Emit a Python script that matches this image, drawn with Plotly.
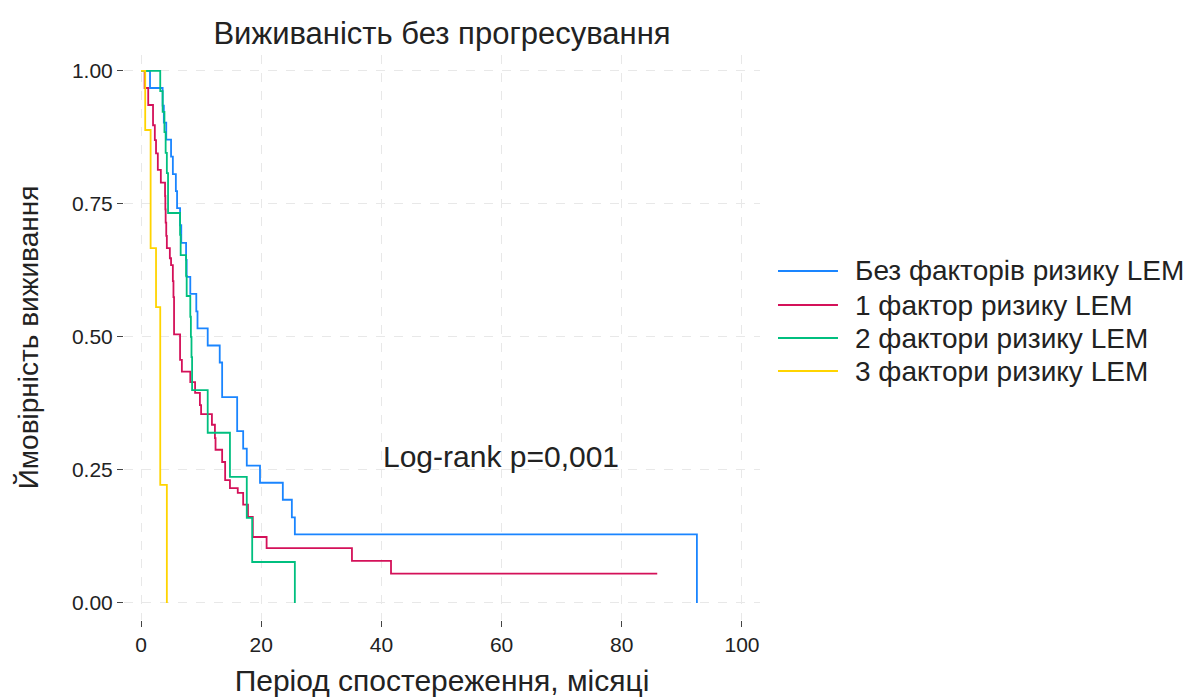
import plotly.graph_objects as go

# ---- data ----
series_names = ["Без факторів ризику LEM", "1 фактор ризику LEM",
                "2 фактори ризику LEM", "3 фактори ризику LEM"]
series_colors = ["#1a85ff", "#d41159", "#00bf7f", "#ffd400"]

t_none = [0, 1.5, 3.6, 3.8, 4.2, 5.0, 5.3, 5.8, 6.0, 6.5, 6.7, 7.5, 7.6, 8.2, 9.2, 9.4,
          11.1, 13.1, 13.5, 16.0, 17.0, 17.6, 19.8, 23.6, 25.1, 25.6, 92.5]
s_none = [1, .968, .935, .903, .871, .839, .806, .774, .742, .710, .677, .645, .613, .581, .548, .516,
          .484, .452, .387, .323, .290, .258, .226, .194, .161, .129, 0]

t_one = [0, 0.6, 1.2, 2.0, 2.3, 2.5, 2.8, 3.3, 4.0, 4.05, 4.1, 4.2, 4.3, 4.8, 5.0, 5.3, 5.4, 5.5,
         6.5, 6.8, 8.2, 9.0, 9.8, 10.0, 11.8, 12.3, 12.4, 13.5, 14.0, 14.8, 16.1, 17.0, 17.8,
         18.6, 20.9, 35.1, 41.6, 85.9]
s_one = [1, .968, .936, .898, .870, .845, .814, .790, .765, .740, .715, .690, .667, .648, .635, .605, .575, .505,
         .457, .435, .415, .395, .372, .355, .335, .310, .288, .265, .231, .216, .207, .185, .162,
         .124, .103, .079, .055, .055]

t_two = [0, 3.2, 3.6, 3.9, 4.1, 4.3, 4.5, 6.5, 6.6, 7.5, 7.6, 8.2, 8.3, 8.4, 8.5, 11.1, 14.8, 17.6, 18.5, 25.6]
s_two = [1, .962, .923, .885, .846, .808, .733, .692, .654, .615, .577, .538, .50, .462, .40, .32, .237, .16, .077, 0]

t_three = [0, 0.7, 1.6, 2.5, 3.2, 4.3]
s_three = [1, .889, .667, .556, .222, 0]

x_ticks = [0, 20, 40, 60, 80, 100]
y_ticks = [0, 0.25, 0.5, 0.75, 1.0]
y_tick_labels = ["0.00", "0.25", "0.50", "0.75", "1.00"]

title_text = "Виживаність без прогресування"
x_title = "Період спостереження, місяці"
y_title = "Ймовірність виживання"
note_text = "Log-rank p=0,001"

FONT = "Liberation Sans, Arial, sans-serif"
TXT = "#222"

fig = go.Figure()
for t, s, name, col in zip([t_none, t_one, t_two, t_three],
                           [s_none, s_one, s_two, s_three],
                           series_names, series_colors):
    fig.add_trace(go.Scatter(x=t, y=s, mode="lines", name=name, showlegend=False,
                             line=dict(color=col, width=1.8, shape="hv")))

fig.add_annotation(x=40, y=0.275, xref="x", yref="y", text=note_text, showarrow=False,
                   xanchor="left", yanchor="middle", font=dict(size=30, color=TXT))

# ---- legend drawn at the right of the plot (paper coordinates) ----
leg_y = [0.6177, 0.5575, 0.4991, 0.4407]
for name, col, yy in zip(series_names, series_colors, leg_y):
    fig.add_shape(type="line", xref="paper", yref="paper", x0=1.0283, x1=1.1226,
                  y0=yy, y1=yy, line=dict(color=col, width=1.8))
    fig.add_annotation(xref="paper", yref="paper", x=1.1462, y=yy, text=name,
                       showarrow=False, xanchor="left", yanchor="middle",
                       font=dict(size=28, color=TXT))

fig.update_layout(
    width=1189, height=697,
    margin=dict(l=124, r=429, t=55, b=77, autoexpand=False),
    paper_bgcolor="white", plot_bgcolor="white",
    font=dict(family=FONT, color=TXT),
    title=dict(text=title_text, x=0.5, xref="paper", xanchor="center",
               y=1 - 33 / 697, yref="container", yanchor="middle",
               font=dict(size=31, color=TXT)),
    showlegend=False,
)
fig.update_xaxes(range=[-2.83, 103.0], tickvals=x_ticks, ticks="outside", ticklen=6,
                 tickcolor="#444", showline=False, zeroline=False, automargin=False,
                 showgrid=True, gridcolor="#e8e8e8", griddash="dash", gridwidth=1,
                 tickfont=dict(size=21, color=TXT),
                 title=dict(text=x_title, font=dict(size=30, color=TXT), standoff=20))
fig.update_yaxes(range=[-0.032, 1.030], tickvals=y_ticks, ticktext=y_tick_labels,
                 ticks="outside", ticklen=6, tickcolor="#444", showline=False, zeroline=False,
                 automargin=False,
                 showgrid=True, gridcolor="#e8e8e8", griddash="dash", gridwidth=1,
                 tickfont=dict(size=21, color=TXT),
                 title=dict(text=y_title, font=dict(size=28, color=TXT), standoff=25))

fig.write_html("out.html")
